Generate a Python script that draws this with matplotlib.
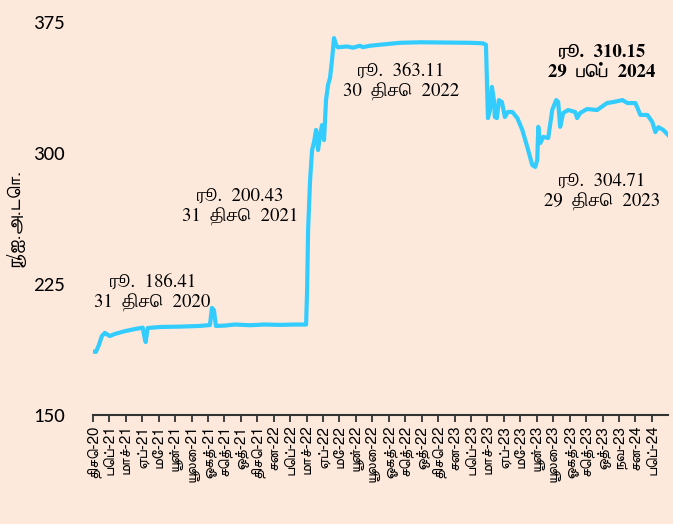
import numpy as np
import matplotlib
matplotlib.use("Agg")
import matplotlib.pyplot as plt

# LKR per USD, days counted from 31 Dec 2020
start = np.datetime64("2020-12-31")
end = np.datetime64("2024-02-29")
days = [0, 6, 12, 18, 24, 34, 44, 64, 84, 100, 104, 106, 110, 135, 175, 215, 235,
        239, 243, 247, 265, 285, 315, 345, 376, 406, 428, 430, 432, 436, 440, 444,
        448, 452, 456, 460, 464, 468, 472, 476, 480, 484, 488, 492, 510, 522, 536,
        542, 556, 591, 617, 657, 723, 757, 783, 789, 793, 797, 801, 805, 807, 811,
        815, 821, 827, 833, 842, 852, 862, 872, 882, 888, 892, 894, 898, 904, 914,
        922, 930, 934, 938, 944, 954, 968, 972, 978, 992, 1012, 1032, 1045, 1063,
        1073, 1089, 1099, 1113, 1123, 1129, 1135, 1145, 1155]
rate = [186.4, 186.1, 190.0, 195.2, 197.0, 195.2, 196.4, 198.0, 199.2, 200.0, 194.0,
        191.8, 199.8, 200.4, 200.6, 201.0, 201.5, 211.3, 210.0, 201.0, 201.2, 201.8,
        201.4, 201.8, 201.6, 201.8, 201.8, 221.6, 255.9, 284.5, 301.7, 306.3, 313.2,
        301.7, 310.3, 316.0, 307.4, 330.3, 339.0, 343.0, 353.2, 365.8, 362.0, 360.5,
        361.0, 360.3, 361.4, 360.6, 361.4, 362.4, 363.1, 363.4, 363.2, 363.1, 362.8,
        362.0, 320.0, 324.6, 337.8, 330.3, 320.6, 320.0, 330.3, 329.2, 320.6, 323.5,
        323.5, 320.0, 313.2, 303.4, 293.1, 292.0, 296.0, 315.0, 305.7, 309.2, 308.6,
        324.6, 330.3, 329.2, 315.0, 322.9, 324.6, 323.5, 320.0, 322.9, 325.2, 324.6,
        328.6, 329.2, 330.3, 328.6, 328.6, 321.8, 321.8, 317.7, 312.0, 314.8, 313.2,
        310.2]

tick_labels = ["திசெ-20", "பெப்-21", "மாச்-21", "ஏப்-21", "மே-21", "யூன்-21",
               "யூலை-21", "ஓகத்-21", "செத்-21", "ஒத்-21", "திசெ-21", "சன-22",
               "பெப்-22", "மாச்-22", "ஏப்-22", "மே-22", "யூன்-22", "யூலை-22",
               "ஓகத்-22", "செத்-22", "ஒத்-22", "திசெ-22", "சன-23", "பெப்-23",
               "மாச்-23", "ஏப்-23", "மே-23", "யூன்-23", "யூலை-23", "ஓகத்-23",
               "செத்-23", "ஒத்-23", "நவ-23", "சன-24", "பெப்-24"]

yticks = [150, 225, 300, 375]

# annotations: (value text, date text, day offset, y value, bold)
notes = [("ரூ.  186.41", "31  திசெ  2020", 120, 220, False),
         ("ரூ.  200.43", "31  திசெ  2021", 295, 269, False),
         ("ரூ.  363.11", "30  திசெ  2022", 619, 341, False),
         ("ரூ.  310.15", "29  பெப்  2024", 1022, 352, True),
         ("ரூ.  304.71", "29  திசெ  2023", 1022, 278, False)]

bg = "#fde9dc"
blue = "#33ccff"
serif = ["FreeSerif", "DejaVu Serif"]
sans = ["FreeSans", "DejaVu Sans"]

fig = plt.figure(figsize=(6.73, 5.24), dpi=100, facecolor=bg)
ax = fig.add_axes([0.138, 0.208, 0.855, 0.75], facecolor=bg)

dates = start + np.array(days).astype("timedelta64[D]")
ax.plot(dates, rate, color=blue, lw=3, solid_joinstyle="round")

n = len(tick_labels)
step = (end - start) / n
ticks = [start + step * i for i in range(n)]
ax.set_xlim(start, end)
ax.set_xticks(ticks)
ax.set_xticklabels(tick_labels, rotation=90, family=sans, fontsize=11)
ax.tick_params(axis="x", length=5, width=1.3, color="#333333", pad=2)

ax.set_ylim(150, 375)
ax.set_yticks(yticks)
ax.set_yticklabels([str(v) for v in yticks], family=["Carlito", "Lato", "DejaVu Sans"],
                   fontsize=15)
ax.tick_params(axis="y", length=0, pad=20)
ax.set_ylabel("ரூ/ஐ.அ.டொ.", family=sans, fontsize=13.5, labelpad=6)

for s in ["top", "right", "left"]:
    ax.spines[s].set_visible(False)
ax.spines["bottom"].set_linewidth(1.5)
ax.spines["bottom"].set_color("#333333")

for val, when, d, y, bold in notes:
    w = "bold" if bold else "normal"
    ax.text(start + np.timedelta64(d, "D"), y, val + "\n" + when, ha="center", va="center",
            family=serif, fontsize=13.5, fontweight=w, linespacing=1.2, color="black")

fig.savefig("out.png", dpi=100, facecolor=bg)
